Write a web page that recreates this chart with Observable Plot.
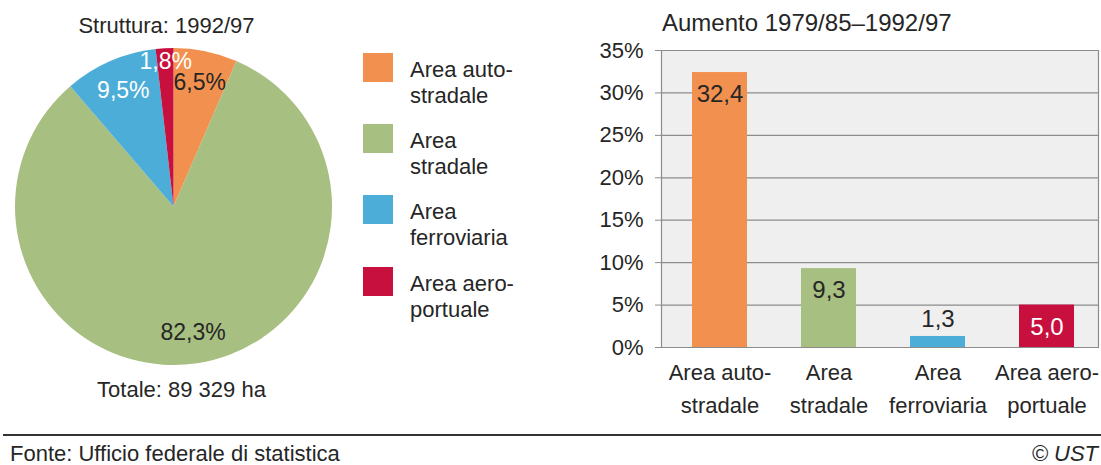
<!DOCTYPE html>
<html>
<head>
<meta charset="utf-8">
<script src="https://cdn.jsdelivr.net/npm/d3@7"></script>
<script src="https://cdn.jsdelivr.net/npm/@observablehq/plot@0.6"></script>
<style>
  html, body { margin: 0; padding: 0; background: #fff; }
  body { font-family: "Liberation Sans", Arial, sans-serif; color: #262626; }
  #root { position: relative; width: 1101px; height: 465px; overflow: hidden; }
  .abs { position: absolute; white-space: nowrap; }
  .t22 { font-size: 22px; line-height: 22px; }
  #legend .item { position: absolute; left: 363px; }
  #legend .sw { position: absolute; left: 0; top: 0; width: 30px; height: 29px; }
  #legend .lbl { position: absolute; left: 47px; top: 4px; font-size: 22px; line-height: 26px; white-space: pre; }
  #footline { position: absolute; left: 3px; top: 434px; width: 1098px; height: 2px; background: #333; }
</style>
</head>
<body>
<div id="root">
  <div id="pie" class="abs" style="left:0;top:0"></div>
  <div id="bars" class="abs" style="left:590px;top:0"></div>
  <div id="legend"></div>
  <div id="pieTitle" class="abs t22" style="left:0;width:333px;text-align:center;top:15px"></div>
  <div id="pieTotal" class="abs t22" style="left:15px;width:333px;text-align:center;top:379px"></div>
  <div id="barTitle" class="abs" style="left:662px;top:11px;font-size:24px;line-height:24px"></div>
  <div id="footline"></div>
  <div id="source" class="abs t22" style="left:10px;top:443px"></div>
  <div id="copy" class="abs t22" style="right:3px;top:443px;font-style:italic"></div>
</div>
<script>
// ---------- data ----------
const categories = ["Area autostradale", "Area stradale", "Area ferroviaria", "Area aeroportuale"];
const categoryLabels = ["Area auto-\nstradale", "Area\nstradale", "Area\nferroviaria", "Area aero-\nportuale"];
const colors = ["#f2914f", "#a7bf80", "#4badd8", "#c8103f"];
const shares = [6.5, 82.3, 9.5, 1.8];            // Struttura 1992/97, %
const shareLabelColors = ["#262626", "#262626", "#ffffff", "#ffffff"];
const growth = [32.4, 9.3, 1.3, 5.0];            // Aumento 1979/85–1992/97, %
const growthLabelColors = ["#262626", "#262626", "#262626", "#ffffff"];
const yTicks = [0, 5, 10, 15, 20, 25, 30, 35];
const pieTitle = "Struttura: 1992/97";
const pieTotal = "Totale: 89 329 ha";
const barTitle = "Aumento 1979/85–1992/97";
const sourceText = "Fonte: Ufficio federale di statistica";
const copyText = "© UST";

const fmt = v => v.toFixed(1).replace(".", ",");
const fontFamily = '"Liberation Sans", Arial, sans-serif';

// ---------- pie ----------
const arcs = d3.pie().sort(null).value(d => d)(shares);
const pieRows = arcs.map((a, i) => {
  const mid = (a.startAngle + a.endAngle) / 2;
  const k = shares[i] < 3 ? 0.92 : 0.8;
  return {
    cat: categories[i], share: shares[i],
    lx: k * Math.sin(mid), ly: k * Math.cos(mid),
    label: fmt(shares[i]) + "%", color: shareLabelColors[i]
  };
});

function pieSlices(index, scales, values, dimensions, context) {
  const cx = scales.x(0), cy = scales.y(0), r = scales.x(1) - scales.x(0);
  const arc = d3.arc().innerRadius(0).outerRadius(r);
  const g = d3.create("svg:g").attr("transform", `translate(${cx},${cy})`);
  g.selectAll("path").data(arcs).join("path")
    .attr("d", arc)
    .attr("fill", (d, i) => colors[i]);
  return g.node();
}

const pie = Plot.plot({
  width: 345, height: 430,
  marginLeft: 15, marginRight: 13, marginTop: 48, marginBottom: 65,
  x: {domain: [-1, 1], axis: null},
  y: {domain: [-1, 1], axis: null},
  style: {fontFamily, background: "transparent"},
  marks: [
    pieSlices,
    Plot.text(pieRows, {x: "lx", y: "ly", text: "label", fill: "color", fontSize: 23})
  ]
});
document.getElementById("pie").appendChild(pie);

// ---------- bars ----------
const barRows = categories.map((c, i) => ({cat: c, value: growth[i], color: colors[i], label: fmt(growth[i]), lc: growthLabelColors[i]}));

const bars = Plot.plot({
  width: 511, height: 430,
  marginLeft: 71, marginRight: 3, marginTop: 50, marginBottom: 83,
  style: {fontFamily, fontSize: "22px", color: "#262626", background: "transparent"},
  x: {domain: categories, paddingInner: 0.5, paddingOuter: 0.25, align: 0.55, label: null},
  y: {domain: [0, 35], label: null},
  color: {type: "identity"},
  marks: [
    Plot.frame({fill: "#efefef", stroke: null}),
    Plot.gridY(yTicks, {stroke: "#8c8c8c", strokeOpacity: 1, strokeWidth: 1.2}),
    Plot.frame({anchor: "left", stroke: "#8c8c8c", strokeWidth: 1.2}),
    Plot.frame({anchor: "right", stroke: "#8c8c8c", strokeWidth: 1.2}),
    Plot.barY(barRows, {x: "cat", y: "value", fill: "color"}),
    Plot.text(barRows.filter(d => d.value >= 3), {x: "cat", y: "value", text: "label", fill: "lc", dy: 22, fontSize: 24}),
    Plot.text(barRows.filter(d => d.value < 3), {x: "cat", y: "value", text: "label", fill: "lc", dy: -17, fontSize: 24}),
    Plot.axisY({ticks: yTicks, tickFormat: d => d + "%", tickSize: 6, tickPadding: 12, stroke: "#8c8c8c", fontSize: 22, label: null}),
    Plot.axisX({tickSize: 0, tickPadding: 9, fontSize: 22, lineHeight: 1.5, label: null,
      tickFormat: d => categoryLabels[categories.indexOf(d)]})
  ]
});
document.getElementById("bars").appendChild(bars);

// ---------- legend & texts ----------
const legend = document.getElementById("legend");
const legendTops = [53, 124, 195, 267];
categories.forEach((c, i) => {
  const item = document.createElement("div");
  item.className = "item";
  item.style.top = legendTops[i] + "px";
  const sw = document.createElement("div");
  sw.className = "sw"; sw.style.background = colors[i];
  const lbl = document.createElement("div");
  lbl.className = "lbl"; lbl.textContent = categoryLabels[i];
  item.appendChild(sw); item.appendChild(lbl);
  legend.appendChild(item);
});
document.getElementById("pieTitle").textContent = pieTitle;
document.getElementById("pieTotal").textContent = pieTotal;
document.getElementById("barTitle").textContent = barTitle;
document.getElementById("source").textContent = sourceText;
document.getElementById("copy").textContent = copyText;
</script>
</body>
</html>
